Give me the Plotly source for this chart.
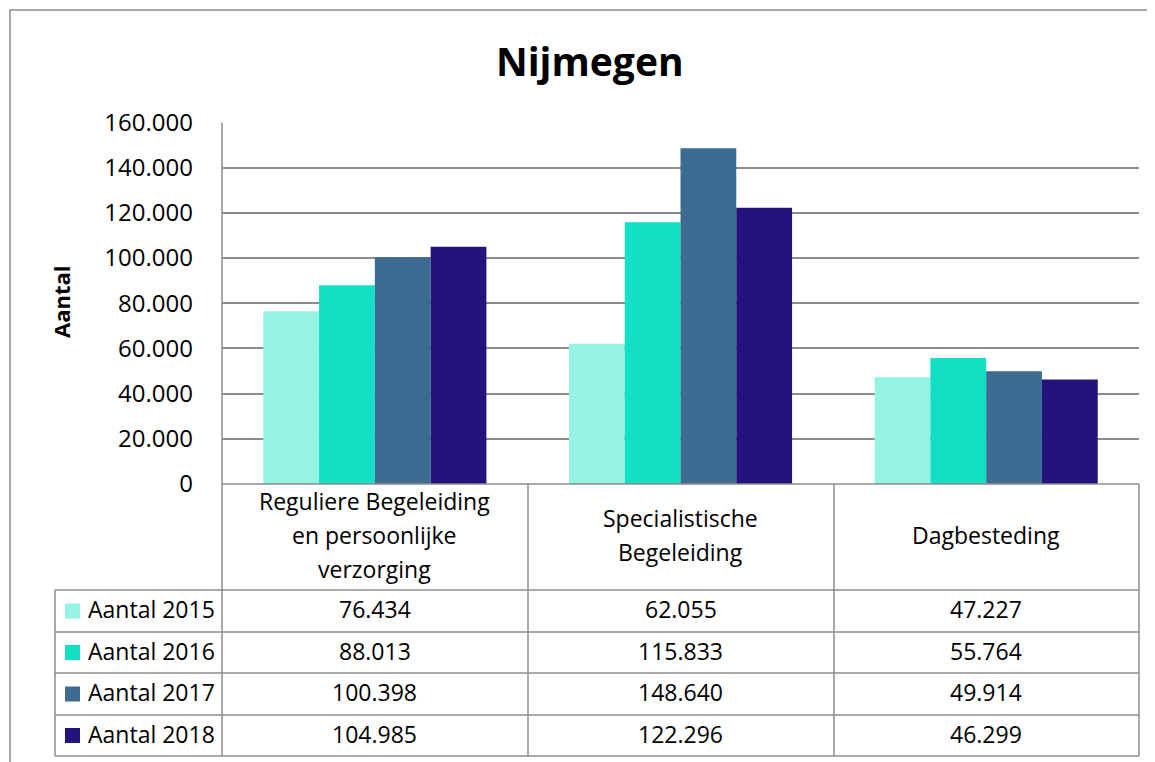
import plotly.graph_objects as go

# ---- data ----
categories = ["Reguliere Begeleiding en persoonlijke verzorging",
              "Specialistische Begeleiding",
              "Dagbesteding"]
header_labels = ["Reguliere Begeleiding<br>en persoonlijke<br>verzorging",
                 "Specialistische<br>Begeleiding",
                 "Dagbesteding"]
series_names = ["Aantal 2015", "Aantal 2016", "Aantal 2017", "Aantal 2018"]
aantal_2015 = [76434, 62055, 47227]
aantal_2016 = [88013, 115833, 55764]
aantal_2017 = [100398, 148640, 49914]
aantal_2018 = [104985, 122296, 46299]
series_values = [aantal_2015, aantal_2016, aantal_2017, aantal_2018]
colors = ["#95F3E3", "#11E0C5", "#3C6C91", "#24137C"]
y_ticks = [0, 20000, 40000, 60000, 80000, 100000, 120000, 140000, 160000]

W, H = 1155, 762
OFF = 8  # page body margin
FONT = "Open Sans"
GRID = "#8c8c8c"


def px(x):
    return (x - OFF) / W


def py(y):
    return 1 - (y - OFF) / H


def fmt(v):
    return f"{v:,}".replace(",", ".")


# plot-area geometry (pixels, screen coordinates)
PL, PR, PT, PB = 222, 1139, 122.5, 484
TL = 55
row_lines = [590, 632, 673, 715, 756]
col_lines = [222, 528, 834, 1139]
LINE_H = 33.5
TXT_DY = -2

fig = go.Figure()
for name, vals, c in zip(series_names, series_values, colors):
    fig.add_trace(go.Bar(x=categories, y=vals, name=name, marker_color=c,
                         marker_line_width=0, showlegend=False))

shapes = []
ann = []

# outer chart border
shapes.append(dict(type="rect", xref="paper", yref="paper",
                   x0=px(10), x1=px(1175), y0=py(10), y1=py(790),
                   line=dict(color="#8a8a8a", width=1.5), layer="below"))


def hline(y, x0, x1):
    shapes.append(dict(type="line", xref="paper", yref="paper",
                       x0=px(x0), x1=px(x1), y0=py(y), y1=py(y),
                       line=dict(color=GRID, width=1.5)))


def vline(x, y0, y1):
    shapes.append(dict(type="line", xref="paper", yref="paper",
                       x0=px(x), x1=px(x), y0=py(y0), y1=py(y1),
                       line=dict(color=GRID, width=1.5)))


hline(PB, PL, PR)
for r in row_lines:
    hline(r, TL, PR)
vline(PL, PT, row_lines[-1])
for cx in col_lines[1:]:
    vline(cx, PB, row_lines[-1])
vline(TL, row_lines[0], row_lines[-1])

# header labels (categories), one annotation per line for Excel-like line spacing
hc = (PB + row_lines[0]) / 2 + TXT_DY
for cat, lab in zip(categories, header_labels):
    lines = lab.split("<br>")
    n = len(lines)
    for k, line in enumerate(lines):
        yc = hc + (k - (n - 1) / 2) * LINE_H
        ann.append(dict(x=cat, xref="x", y=py(yc), yref="paper",
                        text=line, showarrow=False, xanchor="center", yanchor="middle",
                        font=dict(family=FONT, size=23, color="#000000")))

# rows
for i, (name, vals, c) in enumerate(zip(series_names, series_values, colors)):
    yc = (row_lines[i] + row_lines[i + 1]) / 2
    shapes.append(dict(type="rect", xref="paper", yref="paper",
                       x0=px(65), x1=px(80), y0=py(yc - 7.5), y1=py(yc + 7.5),
                       fillcolor=c, line=dict(width=0)))
    ann.append(dict(x=px(86), xref="paper", y=py(yc + TXT_DY), yref="paper", text=name,
                    showarrow=False, xanchor="left", yanchor="middle",
                    font=dict(family=FONT, size=23, color="#000000")))
    for cat, v in zip(categories, vals):
        ann.append(dict(x=cat, xref="x", y=py(yc + TXT_DY), yref="paper", text=fmt(v),
                        showarrow=False, xanchor="center", yanchor="middle",
                        font=dict(family=FONT, size=23, color="#000000")))

# title
ann.append(dict(x=px(590), y=py(61), xref="paper", yref="paper", text="<b>Nijmegen</b>",
                showarrow=False, xanchor="center", yanchor="middle",
                font=dict(family=FONT, size=39, color="#000000")))
# y axis title
ann.append(dict(x=px(61), y=py(302), xref="paper", yref="paper", text="<b>Aantal</b>",
                showarrow=False, xanchor="center", yanchor="middle", textangle=-90,
                font=dict(family=FONT, size=22, color="#000000")))

fig.update_layout(
    width=W, height=H,
    margin=dict(l=0, r=0, t=0, b=0, autoexpand=False),
    paper_bgcolor="white", plot_bgcolor="white",
    separators=",.",
    barmode="group", bargap=0.27, bargroupgap=0,
    shapes=shapes, annotations=ann,
    xaxis=dict(domain=[px(PL), px(PR)], showticklabels=False, showgrid=False,
               zeroline=False, showline=False, ticks="", fixedrange=True,
               automargin=False),
    yaxis=dict(domain=[py(PB), py(PT)], range=[0, 160000], tickvals=y_ticks,
               tickformat=",d", showgrid=True, gridcolor=GRID, gridwidth=1.5,
               zeroline=False, showline=False, ticks="", ticklabelstandoff=28,
               automargin=False,
               tickfont=dict(family=FONT, size=24, color="#000000")),
)

fig.write_html("out.html")
